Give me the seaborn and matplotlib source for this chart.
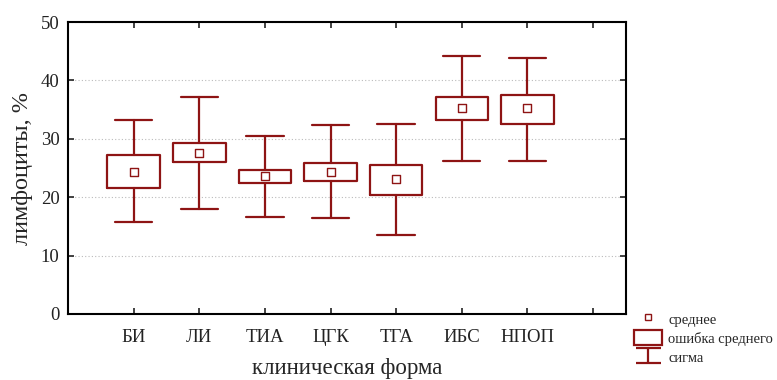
import matplotlib
matplotlib.use("Agg")
import matplotlib.pyplot as plt
import seaborn as sns
import pandas as pd
from matplotlib.lines import Line2D
from matplotlib.patches import Rectangle
from matplotlib.path import Path

# values
forms = ["БИ", "ЛИ", "ТИА", "ЦГК", "ТГА", "ИБС", "НПОП"]
mean = [24.3, 27.6, 23.6, 24.3, 23.1, 35.2, 35.2]
se_low = [21.5, 26.0, 22.5, 22.8, 20.4, 33.2, 32.5]
se_high = [27.3, 29.2, 24.6, 25.8, 25.6, 37.2, 37.5]
sd_low = [15.8, 17.9, 16.6, 16.4, 13.6, 26.2, 26.2]
sd_high = [33.2, 37.1, 30.5, 32.3, 32.5, 44.2, 43.8]

red = "#8E1414"

sns.set_theme(style="white")
plt.rcParams["font.family"] = ["Liberation Serif", "DejaVu Serif"]

fig = plt.figure(figsize=(7.77, 3.80), dpi=100)
ax = fig.add_axes([0.0875, 0.1737, 0.718, 0.7683])

pos = list(range(len(forms)))
stats = []
for i, f in enumerate(forms):
    stats.append(dict(label=f, med=mean[i], q1=se_low[i], q3=se_high[i],
                      whislo=sd_low[i], whishi=sd_high[i], fliers=[]))

ax.bxp(stats, positions=pos, widths=0.8, capwidths=0.57,
       showfliers=False, patch_artist=False,
       boxprops=dict(color=red, lw=1.6),
       whiskerprops=dict(color=red, lw=1.6),
       capprops=dict(color=red, lw=1.6),
       medianprops=dict(lw=0, alpha=0))

df = pd.DataFrame({"form": pos, "mean": mean})
sns.scatterplot(data=df, x="form", y="mean", marker="s", s=26,
                facecolor="white", edgecolor=red, linewidth=1.0, ax=ax, zorder=5)

ax.set_xlim(-1, 7.5)
ax.set_ylim(0, 50)
ax.set_xticks(list(range(8)))
ax.set_xticklabels(forms + [""])
ax.set_yticks([0, 10, 20, 30, 40, 50])
ax.tick_params(axis="y", labelsize=13.5, direction="in", length=4, width=1.2,
               right=True, left=True, pad=6, colors="#222222")
ax.tick_params(axis="x", labelsize=13.5, direction="in", length=4, width=1.2,
               top=True, bottom=True, pad=11, colors="#222222")
ax.yaxis.grid(True, linestyle=(0, (1, 2)), color="#bbbbbb", lw=0.8)
for s in ax.spines.values():
    s.set_color("black")
    s.set_linewidth(1.5)

ax.set_xlabel("клиническая форма", fontsize=16.5)
ax.set_ylabel("лимфоциты, %", fontsize=17.5, labelpad=6)
ax.xaxis.set_label_coords(0.5, -0.15)

sigma_marker = Path([(-1, 0.6), (1, 0.6), (0, 0.6), (0, -0.6), (-1, -0.6), (1, -0.6)],
                    [Path.MOVETO, Path.LINETO, Path.MOVETO, Path.LINETO,
                     Path.MOVETO, Path.LINETO])
handles = [
    Line2D([], [], ls="none", marker="s", markersize=5, markerfacecolor="white",
           markeredgecolor=red, markeredgewidth=1.0),
    Rectangle((0, 0), 1, 1, facecolor="white", edgecolor=red, lw=1.6),
    Line2D([], [], ls="none", marker=sigma_marker, markersize=18,
           markeredgecolor=red, markeredgewidth=1.6),
]
fig.legend(handles, ["среднее", "ошибка среднего", "сигма"],
           loc="upper left", bbox_to_anchor=(0.803, 0.208), frameon=False,
           fontsize=10.5, handlelength=1.9, handleheight=1.2, handletextpad=0.45,
           labelspacing=0.25, borderpad=0.2)

fig.savefig("out.png", dpi=100)
